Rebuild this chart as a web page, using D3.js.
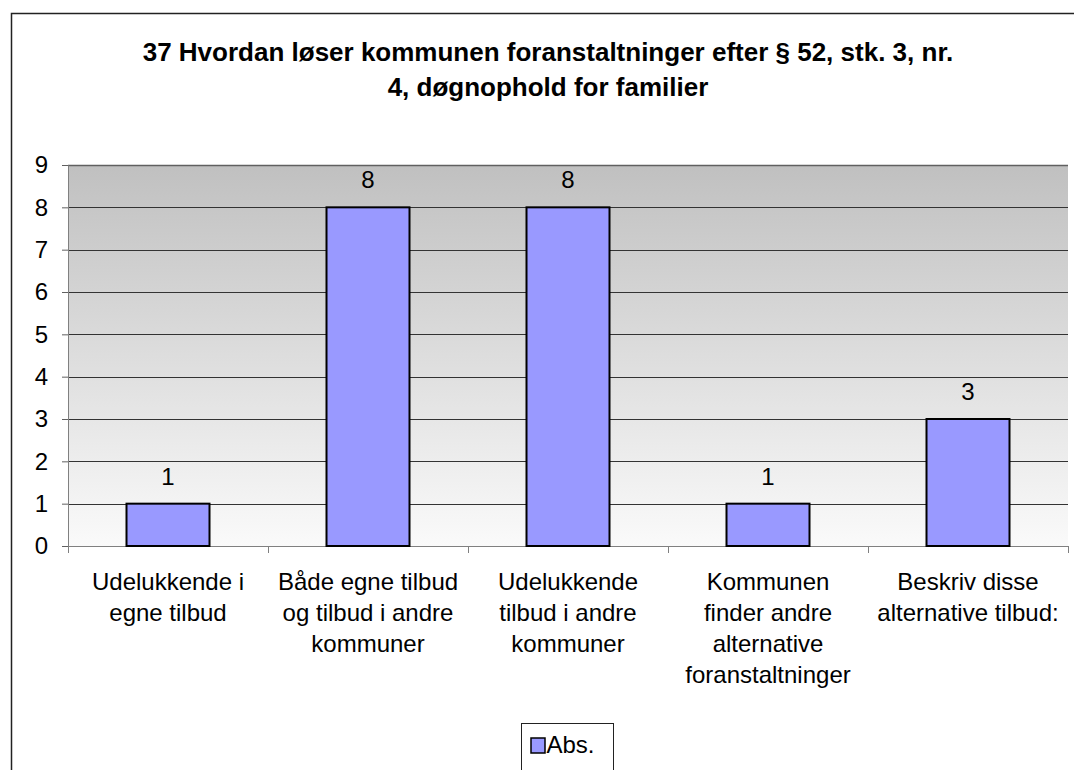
<!DOCTYPE html>
<head>
    <meta charset="utf-8">
    <title>37 Hvordan løser kommunen foranstaltninger</title>
    <style>
        body { margin: 0; background: #fff; }
        text { font-family: "Liberation Sans", Arial, sans-serif; fill: #000; }
    </style>
    <script src="https://d3js.org/d3.v7.min.js"></script>
</head>
<body>
    <script>
        var titleLines = ["37 Hvordan løser kommunen foranstaltninger efter § 52, stk. 3, nr.",
                          "4, døgnophold for familier"];
        var categories = [
            ["Udelukkende i", "egne tilbud"],
            ["Både egne tilbud", "og tilbud i andre", "kommuner"],
            ["Udelukkende", "tilbud i andre", "kommuner"],
            ["Kommunen", "finder andre", "alternative", "foranstaltninger"],
            ["Beskriv disse", "alternative tilbud:"]
        ];
        var values = [1, 8, 8, 1, 3];
        var yTicks = [0, 1, 2, 3, 4, 5, 6, 7, 8, 9];
        var seriesName = "Abs.";

        var W = 1074, H = 770;
        var margin = { top: 165, right: 6, bottom: 224, left: 68 },
            width = W - margin.left - margin.right,
            height = H - margin.top - margin.bottom;

        var svg = d3.select("body").append("svg")
            .attr("width", W)
            .attr("height", H);

        var defs = svg.append("defs");
        var grad = defs.append("linearGradient")
            .attr("id", "bg").attr("x1", 0).attr("y1", 0).attr("x2", 0).attr("y2", 1);
        grad.append("stop").attr("offset", "0%").attr("stop-color", "#c0c0c0");
        grad.append("stop").attr("offset", "100%").attr("stop-color", "#fafafa");

        // outer chart border (runs off the page right and bottom)
        svg.append("rect")
            .attr("x", 11.5).attr("y", 13.5)
            .attr("width", W).attr("height", H)
            .attr("fill", "#fff")
            .attr("stroke", "#222").attr("stroke-width", 1.5);

        svg.append("g").selectAll("text")
            .data(titleLines)
            .enter().append("text")
            .attr("x", 548)
            .attr("y", (d, i) => 61 + i * 35)
            .attr("text-anchor", "middle")
            .style("font-size", "26px")
            .style("font-weight", "bold")
            .text(d => d);

        var x = d3.scaleBand()
            .domain(d3.range(categories.length))
            .range([0, width])
            .paddingInner(0.585).paddingOuter(0.2925);

        var y = d3.scaleLinear()
            .domain([0, 9])
            .range([height, 0]);

        var plot = svg.append("g")
            .attr("transform", "translate(" + margin.left + "," + margin.top + ")");

        plot.append("rect")
            .attr("width", width).attr("height", height)
            .attr("fill", "url(#bg)");

        // gridlines
        plot.append("g").selectAll("line")
            .data(yTicks.slice(1))
            .enter().append("line")
            .attr("x1", 0).attr("x2", width)
            .attr("y1", d => Math.round(y(d)) + 0.5)
            .attr("y2", d => Math.round(y(d)) + 0.5)
            .attr("stroke", d => d === 9 ? "#606060" : "#333")
            .attr("stroke-width", d => d === 9 ? 1.5 : 1);

        // y axis
        var yAxis = plot.append("g")
            .call(d3.axisLeft(y).tickValues(yTicks).tickSize(6).tickPadding(14).tickSizeOuter(0));
        yAxis.select(".domain").attr("stroke", "#808080");
        yAxis.selectAll(".tick line").attr("stroke", "#606060");
        yAxis.selectAll(".tick text")
            .style("font-size", "24px")
            .attr("fill", "#000");

        // x axis with ticks at category boundaries
        var step = width / categories.length;
        var xAxisG = plot.append("g")
            .attr("transform", "translate(0," + height + ")");
        xAxisG.append("line")
            .attr("x1", 0).attr("x2", width)
            .attr("y1", 0.5).attr("y2", 0.5)
            .attr("stroke", "#808080");
        xAxisG.selectAll("line.tk")
            .data(d3.range(categories.length + 1))
            .enter().append("line")
            .attr("class", "tk")
            .attr("x1", d => Math.round(d * step) + 0.5)
            .attr("x2", d => Math.round(d * step) + 0.5)
            .attr("y1", 0).attr("y2", 7)
            .attr("stroke", "#808080");

        var labels = xAxisG.selectAll("text.cat")
            .data(categories)
            .enter().append("text")
            .attr("class", "cat")
            .attr("text-anchor", "middle")
            .style("font-size", "24px")
            .attr("transform", (d, i) => "translate(" + (x(i) + x.bandwidth() / 2) + ",44)");
        labels.selectAll("tspan")
            .data(d => d)
            .enter().append("tspan")
            .attr("x", 0)
            .attr("y", (d, i) => i * 31)
            .text(d => d);

        // bars
        plot.append("g").selectAll("rect")
            .data(values)
            .enter().append("rect")
            .attr("x", (d, i) => x(i))
            .attr("y", d => y(d))
            .attr("width", x.bandwidth())
            .attr("height", d => height - y(d))
            .attr("fill", "#9999ff")
            .attr("stroke", "#000")
            .attr("stroke-width", 2);

        plot.append("g").selectAll("text")
            .data(values)
            .enter().append("text")
            .attr("x", (d, i) => x(i) + x.bandwidth() / 2)
            .attr("y", d => y(d) - 19)
            .attr("text-anchor", "middle")
            .style("font-size", "24px")
            .text(d => d);

        // legend
        var legend = svg.append("g").attr("transform", "translate(521.5,723.5)");
        legend.append("rect")
            .attr("width", 92).attr("height", 60)
            .attr("fill", "#fff").attr("stroke", "#222").attr("stroke-width", 1);
        legend.append("rect")
            .attr("x", 9.5).attr("y", 14.5)
            .attr("width", 14).attr("height", 15)
            .attr("fill", "#9999ff").attr("stroke", "#000").attr("stroke-width", 1.5);
        legend.append("text")
            .attr("x", 25).attr("y", 29)
            .style("font-size", "24px")
            .text(seriesName);
    </script>
</body>
